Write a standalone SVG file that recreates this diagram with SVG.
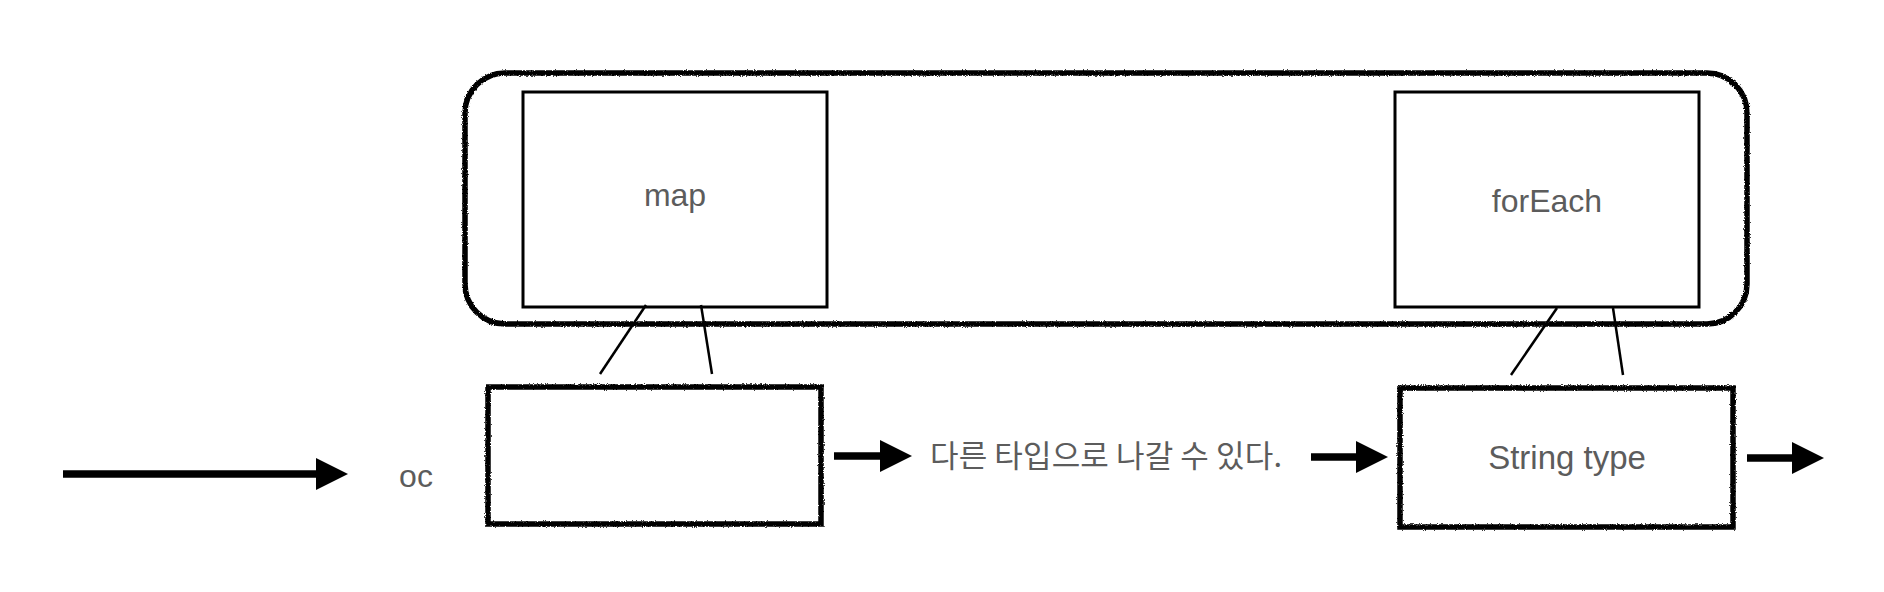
<svg xmlns="http://www.w3.org/2000/svg" width="1884" height="592" viewBox="0 0 1884 592">
  <style>
    .lbl { font-family: "Liberation Sans", Arial, "Noto Sans CJK KR", sans-serif; font-size: 32px; fill: #5c5c5c; text-anchor: middle; }
    .kr { font-family: "Noto Sans CJK KR", "Liberation Sans", sans-serif; font-size: 31px; fill: #5c5c5c; }
    .rough { fill: none; stroke: #000; stroke-width: 5.5; filter: url(#sketch); }
    .plain { fill: #fff; stroke: #000; stroke-width: 3; }
    .thin { stroke: #000; stroke-width: 2.5; fill: none; }
    .shaft { stroke: #000; stroke-width: 7.5; fill: none; }
  </style>
  <defs>
    <filter id="sketch" x="-5%" y="-5%" width="110%" height="110%">
      <feTurbulence type="fractalNoise" baseFrequency="0.9" numOctaves="2" seed="3" result="n"/>
      <feDisplacementMap in="SourceGraphic" in2="n" scale="3" xChannelSelector="R" yChannelSelector="G"/>
    </filter>
    <marker id="head" markerUnits="userSpaceOnUse" markerWidth="34" markerHeight="34" refX="0" refY="16" orient="auto" viewBox="0 0 34 34">
      <path d="M0,0 L32,16 L0,32 Z" fill="#000"/>
    </marker>
  </defs>
  <rect width="1884" height="592" fill="#fff"/>

  <g id="container">
    <rect class="rough" x="465" y="73" width="1282" height="251" rx="40" ry="40"/>
  </g>

  <g id="map">
    <rect class="plain" x="523" y="92" width="304" height="215"/>
    <text class="lbl" x="675" y="206">map</text>
  </g>

  <g id="forEach">
    <rect class="plain" x="1395" y="92" width="304" height="215"/>
    <text class="lbl" x="1547" y="212">forEach</text>
  </g>

  <g id="result-box">
    <rect class="rough" x="488" y="387" width="333" height="137"/>
  </g>

  <g id="string-type">
    <rect class="rough" x="1400" y="388" width="333" height="139"/>
    <text class="lbl" x="1567" y="469" style="font-size:33px">String type</text>
  </g>

  <g id="oc">
    <text class="lbl" x="416" y="487">oc</text>
  </g>

  <g id="note">
    <text class="kr" x="930" y="467" textLength="352" lengthAdjust="spacing">다른 타입으로 나갈 수 있다.</text>
  </g>

  <g id="connectors">
    <line class="shaft" x1="63" y1="474" x2="316" y2="474" marker-end="url(#head)"/>
    <line class="shaft" x1="834" y1="456" x2="880" y2="456" marker-end="url(#head)"/>
    <line class="shaft" x1="1311" y1="457" x2="1356" y2="457" marker-end="url(#head)"/>
    <line class="shaft" x1="1747" y1="458" x2="1792" y2="458" marker-end="url(#head)"/>
    <line class="thin" x1="646" y1="305" x2="600" y2="374"/>
    <line class="thin" x1="701" y1="305" x2="712" y2="374"/>
    <line class="thin" x1="1557" y1="308" x2="1511" y2="375"/>
    <line class="thin" x1="1613" y1="308" x2="1623" y2="375"/>
  </g>
</svg>
